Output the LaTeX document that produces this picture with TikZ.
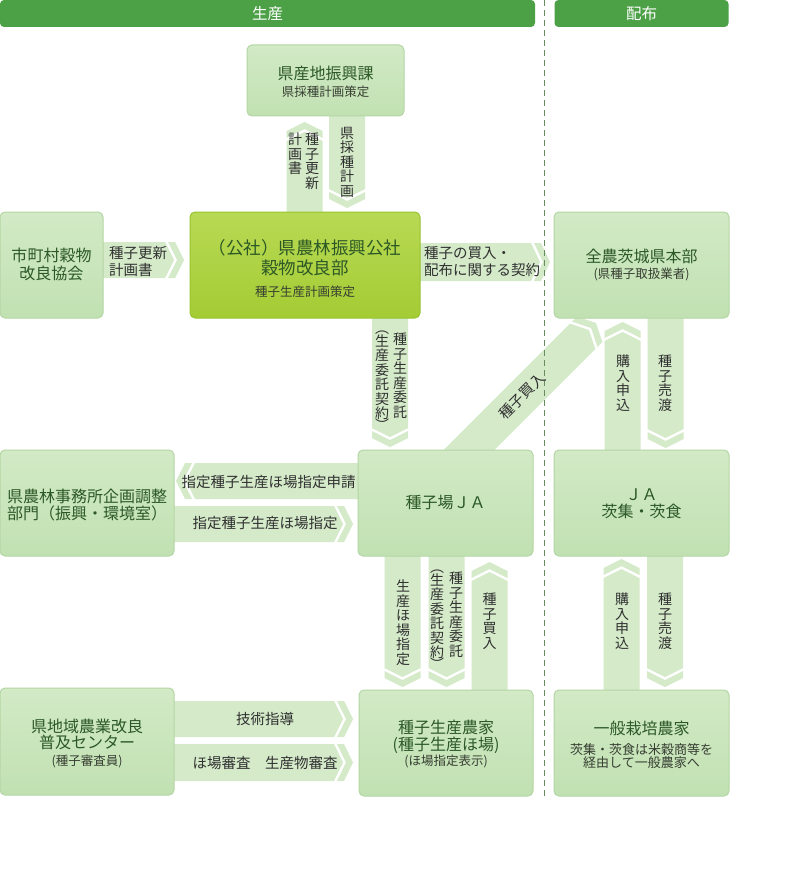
\documentclass[tikz,border=0pt]{standalone}
\usepackage{fontspec}
\setmainfont{Noto Sans CJK JP}
\usetikzlibrary{calc}
\pgfdeclarelayer{bg}
\pgfsetlayers{bg,main}
\lineskiplimit=-20pt
\definecolor{hdrc}{RGB}{76,160,70}
\definecolor{boxtop}{RGB}{210,234,198}
\definecolor{boxbot}{RGB}{193,225,178}
\definecolor{boxedge}{RGB}{180,214,164}
\definecolor{kotop}{RGB}{184,217,84}
\definecolor{kobot}{RGB}{164,204,52}
\definecolor{koedge}{RGB}{152,196,48}
\definecolor{arrc}{RGB}{212,234,201}
\definecolor{ttlc}{RGB}{44,88,38}
\definecolor{subc}{RGB}{55,62,50}
\definecolor{lblc}{RGB}{48,48,48}
\definecolor{dashc}{RGB}{105,140,95}
\newcommand\subf{\fontsize{12.5}{14}\selectfont\color{subc}}
\newcommand\subg{\fontsize{13}{14}\selectfont\color{subc}}
\newcommand\barrow[3][36]{%
  \path #2 coordinate (bas) #3 coordinate (bae);
  \pgfpointdiff{\pgfpointanchor{bas}{center}}{\pgfpointanchor{bae}{center}}%
  \pgfgetlastxy{\badx}{\bady}%
  \pgfmathsetmacro\balen{veclen(\badx,\bady)-19}%
  \pgfmathsetmacro\baang{atan2(\bady,\badx)}%
  \pgfmathsetmacro\bahw{#1/2}%
  \begin{scope}[shift={(bas)}, rotate=\baang]
    \fill[arrc] (0,-\bahw) -- (\balen,-\bahw) -- ({\balen+9},0) -- (\balen,\bahw) -- (0,\bahw) -- cycle;
    \fill[arrc] ({\balen+3},-\bahw) -- ({\balen+12},0) -- ({\balen+3},\bahw) -- ({\balen+10},\bahw) -- ({\balen+19},0) -- ({\balen+10},-\bahw) -- cycle;
  \end{scope}}
\tikzset{
  hdr/.style={fill=hdrc, rounded corners=4pt, text=white, font=\fontsize{15.5}{18}\selectfont, inner sep=0pt, outer sep=0pt},
  box/.style={draw=boxedge, line width=1pt, rounded corners=5pt, top color=boxtop, bottom color=boxbot, inner sep=0pt, outer sep=0pt},
  kbox/.style={draw=koedge, line width=1pt, rounded corners=5pt, top color=kotop, bottom color=kobot, inner sep=0pt, outer sep=0pt},
  ttl/.style={align=center, text=ttlc, inner sep=0pt, font=\fontsize{16}{16.5}\selectfont},
  lbl/.style={text=lblc, inner sep=0pt, font=\fontsize{14.5}{17}\selectfont},
  vl/.style={text=lblc, inner sep=0pt, align=center, anchor=north, font=\fontsize{14}{14.5}\selectfont},
  dashline/.style={dashc, line width=1pt, dash pattern=on 6pt off 4pt}
}
\begin{document}
\begin{tikzpicture}[x=1pt,y=-1pt]
\useasboundingbox (0,0) rectangle (796,880);
\begin{pgfonlayer}{bg}
\fill[white] (0,0) rectangle (796,880);
\end{pgfonlayer}
% headers
\node[hdr, minimum width=535pt, minimum height=27pt] (hp) at (267.5,13.5) {生産};
\node[hdr, minimum width=174pt, minimum height=27pt] (hd) at (641.5,13.5) {配布};
% dashed divider
\coordinate (dtop) at (544,0);
\coordinate (dbot) at (544,796);
\draw[dashline] (dtop) -- (dbot);
% boxes
\node[box, minimum width=157pt, minimum height=71pt] (ken) at (325.5,80.5) {};
\node[kbox, minimum width=230pt, minimum height=106pt] (kosha) at (305,265) {};
\node[box, minimum width=103pt, minimum height=106pt] (shi) at (51.5,265) {};
\node[box, minimum width=175pt, minimum height=106pt] (zen) at (641.5,265) {};
\node[box, minimum width=174pt, minimum height=106pt] (nor) at (87,503) {};
\node[box, minimum width=175pt, minimum height=106pt] (tane) at (445.5,503) {};
\node[box, minimum width=175pt, minimum height=106pt] (ja) at (641.5,503) {};
\node[box, minimum width=174pt, minimum height=107pt] (fuk) at (87,741.5) {};
\node[box, minimum width=174pt, minimum height=106pt] (nou) at (446,743) {};
\node[box, minimum width=175pt, minimum height=106pt] (ipp) at (641.5,743) {};
% box texts
\node[ttl] (kenT) at (325.5,82) {県産地振興課\\{\subf 県採種計画策定}};
\node[ttl, font=\fontsize{17.5}{20}\selectfont] (koT) at (305,268.7) {（公社）県農林振興公社\\穀物改良部\\[1.9pt]{\subf 種子生産計画策定}};
\node[ttl, font=\fontsize{16}{18}\selectfont] (shiT) at (51.5,264) {市町村穀物\\改良協会};
\node[ttl, font=\fontsize{16}{16.7}\selectfont] (zenT) at (641.5,265) {全農茨城県本部\\{\subf (県種子取扱業者)}};
\node[ttl, font=\fontsize{16}{17}\selectfont] (norT) at (87,505.5) {県農林事務所企画調整\\部門（振興・環境室）};
\node[ttl] (taneT) at (445.5,503) {種子場ＪＡ};
\node[ttl, font=\fontsize{16}{17}\selectfont] (jaT) at (641.5,503.5) {ＪＡ\\茨集・茨食};
\node[ttl, font=\fontsize{16}{16}\selectfont] (fukT) at (87,743.5) {県地域農業改良\\普及センター\\[1.5pt]{\subf (種子審査員)}};
\node[ttl, font=\fontsize{16}{17}\selectfont] (nouT) at (446,744) {種子生産農家\\(種子生産ほ場)\\[-1.5pt]{\subf (ほ場指定表示)}};
\node[ttl, font=\fontsize{16}{12.7}\selectfont] (ippT) at (641.5,744.6) {一般栽培農家\\[8.1pt]{\subg 茨集・茨食は米穀商等を}\\{\subg 経由して一般農家へ}};
% arrow labels (horizontal)
\node[lbl, align=left, anchor=west] (h11) at (109,261.5) {種子更新\\計画書};
\node[lbl, align=left, anchor=west] (h12) at (424,261.5) {種子の買入・\\配布に関する契約};
\node[lbl] (h13) at (268.5,482) {指定種子生産ほ場指定申請};
\node[lbl] (h14) at (265,523) {指定種子生産ほ場指定};
\node[lbl] (h15) at (265,719) {技術指導};
\node[lbl] (h16) at (265,763) {ほ場審査　生産物審査};
% arrow labels (vertical)
\node[vl] (v1a) at (312,133) {種\\子\\更\\新};
\node[vl] (v1b) at (295,133) {計\\画\\書};
\node[vl] (v2) at (347,127) {県\\採\\種\\計\\画};
\node[vl] (v3a) at (400,333) {種\\子\\生\\産\\委\\託};
\node[vl] (v3b) at (382,331) {︵\\[-2pt]生\\産\\委\\託\\契\\約\\[-3pt]︶};
\node[vl] (v4) at (623,355) {購\\入\\申\\込};
\node[vl] (v5) at (665,355) {種\\子\\売\\渡};
\node[vl] (v6) at (403,580) {生\\産\\ほ\\場\\指\\定};
\node[vl] (v7a) at (456,572) {種\\子\\生\\産\\委\\託};
\node[vl] (v7b) at (437,570) {︵\\[-2pt]生\\産\\委\\託\\契\\約\\[-3pt]︶};
\node[vl] (v8) at (489.5,593) {種\\子\\買\\入};
\node[vl] (v9) at (622,593) {購\\入\\申\\込};
\node[vl] (v10) at (665,593) {種\\子\\売\\渡};
\node[lbl, rotate=45] (d17) at (522,396) {種子買入};
% block arrows
\begin{pgfonlayer}{bg}
\barrow{(304.5,0 |- kosha.north)}{($(304.5,0 |- ken.south)+(0,6)$)}
\barrow{(347,0 |- ken.south)}{($(347,0 |- kosha.north)+(0,-4)$)}
\barrow{(390,0 |- kosha.south)}{($(390,0 |- tane.north)+(0,-3)$)}
\barrow{(622.5,0 |- ja.north)}{($(622.5,0 |- zen.south)+(0,4)$)}
\barrow{(665.5,0 |- zen.south)}{($(665.5,0 |- ja.north)+(0,-2)$)}
\barrow{(402.5,0 |- tane.south)}{($(402.5,0 |- nou.north)+(0,-3)$)}
\barrow{(446.5,0 |- tane.south)}{($(446.5,0 |- nou.north)+(0,-3)$)}
\barrow{(489.5,0 |- nou.north)}{($(489.5,0 |- tane.south)+(0,6)$)}
\barrow{(621.5,0 |- ipp.north)}{($(621.5,0 |- ja.south)+(0,3)$)}
\barrow{(665,0 |- ja.south)}{($(665,0 |- ipp.north)+(0,-3)$)}
\barrow{(shi.east |- 0,260)}{($(kosha.west |- 0,260)+(-6,0)$)}
\barrow[38]{(kosha.east |- 0,262)}{($(zen.west |- 0,262)+(-4,0)$)}
\barrow{(tane.west |- 0,481)}{($(nor.east |- 0,481)+(2,0)$)}
\barrow{(nor.east |- 0,524)}{($(tane.west |- 0,524)+(-5,0)$)}
\barrow{(fuk.east |- 0,719)}{($(nou.west |- 0,719)+(-6,0)$)}
\barrow[37]{(fuk.east |- 0,762.5)}{($(nou.west |- 0,762.5)+(-6,0)$)}
\barrow{($(tane.north)+(8.5,15)$)}{($(zen.south west)+(42,5)$)}
\end{pgfonlayer}
\end{tikzpicture}
\end{document}
